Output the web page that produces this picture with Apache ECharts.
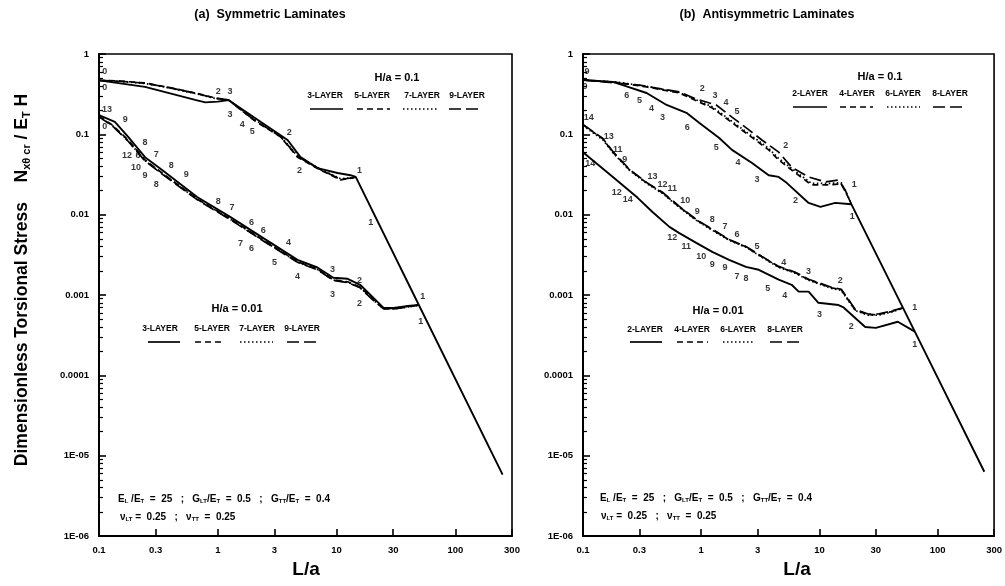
<!DOCTYPE html>
<html><head><meta charset="utf-8">
<script src="https://cdn.jsdelivr.net/npm/echarts@6/dist/echarts.min.js"></script>
<style>html,body{margin:0;padding:0;background:#fff}#c{width:1005px;height:586px}</style>
</head><body><div id="c"></div>
<script>
// ---------- tick data ----------
const xTicks = [0.1, 0.3, 1, 3, 10, 30, 100, 300];
const yTicks = [1e-6, 1e-5, 1e-4, 1e-3, 1e-2, 1e-1, 1];
const yTickLabels = ['1E-06', '1E-05', '0.0001', '0.001', '0.01', '0.1', '1'];
const yMinorMult = [2, 3, 4, 5, 6, 7, 8, 9];
const yDecades = [1e-6, 1e-5, 1e-4, 1e-3, 1e-2, 1e-1];

// ---------- (a) Symmetric laminates, H/a = 0.1 ----------
const sym01_3 = [[0.1,0.47],[0.244,0.39],[0.645,0.268],[0.785,0.25],[1.0,0.255],[1.23,0.268],[2.0,0.164],[3.87,0.085],[4.97,0.052],[6.9,0.038],[10.2,0.033],[13.1,0.031],[14.5,0.0295],[49.3,0.00075],[250,5.8e-6]];
const sym01_5 = [[0.1,0.47],[0.15,0.46],[0.244,0.436],[0.4,0.38],[0.645,0.327],[0.95,0.284],[1.23,0.268],[2.0,0.151],[3.37,0.093],[4.69,0.052],[7.3,0.036],[10.8,0.0271],[13.7,0.0287],[14.5,0.0295]];
const sym01_7 = [[0.1,0.47],[0.15,0.455],[0.244,0.43],[0.4,0.375],[0.645,0.322],[0.95,0.28],[1.23,0.268],[2.0,0.155],[3.37,0.095],[4.69,0.054],[7.3,0.037],[10.8,0.028],[13.7,0.0289],[14.5,0.0295]];
const sym01_9 = [[0.1,0.47],[0.15,0.458],[0.244,0.433],[0.4,0.378],[0.645,0.325],[0.95,0.282],[1.23,0.268],[2.0,0.153],[3.37,0.094],[4.69,0.053],[7.3,0.0365],[10.8,0.0275],[13.7,0.0288],[14.5,0.0295]];
// ---------- (a) Symmetric laminates, H/a = 0.01 ----------
const sym001_3 = [[0.1,0.174],[0.136,0.143],[0.176,0.093],[0.244,0.052],[0.34,0.036],[0.67,0.0166],[1.27,0.0094],[2.42,0.0051],[4.69,0.00274],[6.9,0.0022],[9.4,0.00164],[12.4,0.00159],[15.8,0.00134],[24.9,0.00069],[30.3,0.00069],[39.8,0.00073],[49.3,0.00075]];
const sym001_5 = [[0.1,0.168],[0.13,0.13],[0.176,0.085],[0.244,0.048],[0.34,0.033],[0.67,0.0157],[1.27,0.0089],[2.42,0.0048],[4.69,0.0026],[6.9,0.0021],[9.4,0.00155],[12.4,0.00146],[15.8,0.00126],[20,0.0009],[24.9,0.00068],[30.3,0.00068],[39.8,0.00072],[49.3,0.00075]];
const sym001_7 = [[0.1,0.166],[0.13,0.128],[0.176,0.083],[0.244,0.047],[0.34,0.0325],[0.67,0.0155],[1.27,0.0088],[2.42,0.00475],[4.69,0.00258],[6.9,0.00208],[9.4,0.00153],[12.4,0.00144],[15.8,0.00124],[20,0.00089],[24.9,0.00067],[30.3,0.00067],[39.8,0.00071],[49.3,0.00075]];
const sym001_9 = [[0.1,0.165],[0.13,0.127],[0.176,0.082],[0.244,0.0465],[0.34,0.032],[0.67,0.0154],[1.27,0.0087],[2.42,0.0047],[4.69,0.00256],[6.9,0.00206],[9.4,0.00152],[12.4,0.00143],[15.8,0.00123],[20,0.00088],[24.9,0.00067],[30.3,0.00067],[39.8,0.00071],[49.3,0.00075]];

// ---------- (b) Antisymmetric laminates, H/a = 0.1 ----------
const anti01_2 = [[0.1,0.475],[0.179,0.449],[0.217,0.41],[0.345,0.327],[0.51,0.232],[0.75,0.185],[0.96,0.139],[1.42,0.09],[1.82,0.064],[2.69,0.044],[3.72,0.031],[4.52,0.0295],[5.28,0.0249],[8.1,0.014],[10.2,0.0125],[13.6,0.014],[18.6,0.0135],[64.1,0.00035],[248,6.3e-6]];
const anti01_4 = [[0.1,0.475],[0.2,0.44],[0.345,0.389],[0.653,0.327],[1.24,0.213],[2.39,0.104],[3.72,0.064],[4.52,0.048],[6.28,0.033],[8.57,0.0235],[11.9,0.0235],[15.3,0.0242],[17.5,0.0165],[18.6,0.0135]];
const anti01_6 = [[0.1,0.475],[0.2,0.445],[0.345,0.395],[0.653,0.332],[1.24,0.22],[2.39,0.108],[3.72,0.067],[4.52,0.05],[6.28,0.0345],[8.57,0.0245],[11.9,0.0245],[15.3,0.025],[17.5,0.0168],[18.6,0.0135]];
const anti01_8 = [[0.1,0.475],[0.3,0.41],[0.653,0.337],[0.908,0.275],[1.34,0.232],[1.82,0.164],[2.53,0.1135],[3.26,0.085],[4.52,0.06],[5.82,0.039],[8.1,0.0295],[11.2,0.0256],[14.5,0.027],[16.5,0.0203],[18.6,0.0135]];
// ---------- (b) Antisymmetric laminates, H/a = 0.01 ----------
const anti001_2 = [[0.1,0.06],[0.179,0.0295],[0.29,0.0162],[0.387,0.0108],[0.538,0.00705],[0.653,0.0059],[0.908,0.00446],[1.24,0.00344],[1.72,0.00274],[2.39,0.00224],[3.07,0.00206],[4.52,0.00155],[5.82,0.00134],[6.67,0.0011],[8.1,0.0011],[9.8,0.0008],[14.5,0.00075],[16,0.0007],[24.4,0.0004],[30,0.00039],[46,0.000464],[64.1,0.00035]];
const anti001_4 = [[0.1,0.131],[0.147,0.088],[0.179,0.06],[0.248,0.036],[0.345,0.0249],[0.47,0.0187],[0.653,0.0125],[0.908,0.0086],[1.24,0.0065],[1.72,0.00486],[2.39,0.00398],[3.26,0.00299],[4.52,0.00224],[6.28,0.00189],[8.1,0.00155],[12.6,0.00123],[15.3,0.00116],[20.1,0.00065],[25.8,0.00057],[31.3,0.00057],[40.3,0.00062],[50.8,0.00069]];
const anti001_6 = [[0.1,0.128],[0.147,0.086],[0.179,0.059],[0.248,0.0355],[0.345,0.0245],[0.47,0.0184],[0.653,0.0123],[0.908,0.0085],[1.24,0.0064],[1.72,0.0048],[2.39,0.00392],[3.26,0.00295],[4.52,0.00221],[6.28,0.00186],[8.1,0.00153],[12.6,0.00121],[15.3,0.00114],[20.1,0.00064],[25.8,0.00056],[31.3,0.00056],[40.3,0.00061],[50.8,0.00069]];
const anti001_8 = [[0.1,0.133],[0.147,0.089],[0.179,0.061],[0.248,0.0365],[0.345,0.0252],[0.47,0.019],[0.653,0.0127],[0.908,0.0087],[1.24,0.0066],[1.72,0.0049],[2.39,0.00402],[3.26,0.00302],[4.52,0.00227],[6.28,0.00191],[8.1,0.00157],[12.6,0.00125],[15.3,0.00118],[20.1,0.00066],[25.8,0.00058],[31.3,0.00058],[40.3,0.00063],[50.8,0.00069]];

// ---------- mode-number annotations [L/a, value, text] ----------
const symLabels = [[0.112,0.597,'0'],[0.112,0.378,'0'],[1.01,0.337,'2'],[1.27,0.337,'3'],[1.27,0.174,'3'],[1.61,0.131,'4'],[1.95,0.107,'5'],[4.0,0.104,'2'],[4.88,0.035,'2'],[15.6,0.035,'1'],
 [0.117,0.201,'13'],[0.112,0.124,'0'],[0.166,0.151,'9'],[0.244,0.078,'8'],[0.172,0.054,'12'],[0.213,0.054,'6'],[0.303,0.0554,'7'],[0.205,0.039,'10'],[0.244,0.0304,'9'],[0.405,0.0404,'8'],[0.542,0.0313,'9'],[0.303,0.0235,'8'],
 [1.01,0.0144,'8'],[1.32,0.0122,'7'],[1.92,0.0079,'6'],[2.42,0.0063,'6'],[3.94,0.00446,'4'],[1.55,0.00433,'7'],[1.92,0.00376,'6'],[3.0,0.00251,'5'],[4.69,0.00168,'4'],[9.25,0.00206,'3'],[15.6,0.0015,'2'],[9.25,0.001,'3'],[15.6,0.00078,'2'],[53.2,0.00095,'1'],[51.2,0.000464,'1'],[19.4,0.0081,'1']];
const antiLabels = [[0.108,0.597,'9'],[0.104,0.389,'0'],[0.234,0.30,'6'],[0.301,0.26,'5'],[0.38,0.207,'4'],[0.47,0.164,'3'],[0.762,0.12,'6'],[1.34,0.0677,'5'],[2.05,0.044,'4'],[2.96,0.0271,'3'],[6.28,0.0149,'2'],[18.9,0.0094,'1'],
 [1.02,0.367,'2'],[1.31,0.30,'3'],[1.62,0.246,'4'],[2.01,0.19,'5'],[5.18,0.0717,'2'],[19.7,0.0235,'1'],
 [0.112,0.164,'14'],[0.165,0.0928,'13'],[0.197,0.064,'11'],[0.225,0.048,'9'],[0.115,0.0428,'14'],[0.387,0.0295,'13'],[0.47,0.0235,'12'],[0.57,0.021,'11'],[0.734,0.0149,'10'],[0.925,0.0108,'9'],[1.24,0.0086,'8'],[1.59,0.00705,'7'],[0.193,0.0187,'12'],[0.239,0.0153,'14'],
 [2.01,0.0056,'6'],[2.96,0.00398,'5'],[4.98,0.00251,'4'],[8.1,0.00194,'3'],[15.0,0.0015,'2'],[64.1,0.00069,'1'],[64.1,0.00024,'1'],[18.6,0.0004,'2'],[10,0.00057,'3'],
 [0.57,0.00514,'12'],[0.748,0.00398,'11'],[1.0,0.00299,'10'],[1.24,0.00238,'9'],[1.59,0.00218,'9'],[2.01,0.00168,'7'],[2.39,0.00159,'8'],[3.66,0.00119,'5'],[5.08,0.00098,'4']];

// ---------- legend texts ----------
const symLegend = ['3-LAYER', '5-LAYER', '7-LAYER', '9-LAYER'];
const antiLegend = ['2-LAYER', '4-LAYER', '6-LAYER', '8-LAYER'];

// ---------- build chart ----------
const F = '"Liberation Sans", Arial, Helvetica, sans-serif';
const BLACK = '#000';
const DASH = [6, 4], DOT = [1.5, 2.5], LDASH = [12, 5];
const yMinor = [];
yDecades.forEach(d => yMinorMult.forEach(m => yMinor.push(m * d)));

function fmtX(v) { return String(+Number(v).toPrecision(3)); }
function fmtY(v) {
  const l = Math.log10(v);
  for (let i = 0; i < yTicks.length; i++) if (Math.abs(Math.log10(yTicks[i]) - l) < 1e-6) return yTickLabels[i];
  return '';
}
const lbl = { color: BLACK, fontSize: 9.5, fontWeight: 'bold', fontFamily: F };

function xAx(g) {
  return { type: 'log', logBase: 10, gridIndex: g, min: 0.1, max: 300,
    axisLine: { show: true, lineStyle: { color: BLACK, width: 2 } },
    axisTick: { show: true, inside: true, length: 7, customValues: xTicks, lineStyle: { color: BLACK, width: 1.6 } },
    axisLabel: Object.assign({ customValues: xTicks, formatter: fmtX, margin: 9 }, lbl),
    splitLine: { show: false }, minorTick: { show: false } };
}
function yAxMajor(g) {
  return { type: 'log', logBase: 10, gridIndex: g, min: 1e-6, max: 1, position: 'left',
    axisLine: { show: true, lineStyle: { color: BLACK, width: 2 } },
    axisTick: { show: true, inside: true, length: 7, customValues: yTicks, lineStyle: { color: BLACK, width: 1.6 } },
    axisLabel: Object.assign({ customValues: yTicks, formatter: fmtY, margin: 10 }, lbl),
    splitLine: { show: false } };
}
function yAxMinor(g) {
  return { type: 'log', logBase: 10, gridIndex: g, min: 1e-6, max: 1, position: 'left', offset: 0,
    axisLine: { show: false },
    axisTick: { show: true, inside: true, length: 4, customValues: yMinor, lineStyle: { color: BLACK, width: 1.2 } },
    axisLabel: { show: false }, splitLine: { show: false } };
}
function line(data, g, type, width) {
  return { type: 'line', xAxisIndex: g, yAxisIndex: 2 * g, data: data, symbol: 'none', showSymbol: false,
    lineStyle: { color: BLACK, width: width || 1.7, type: type }, silent: true, animation: false, z: 3 };
}
function annot(arr, g) {
  return { type: 'scatter', xAxisIndex: g, yAxisIndex: 2 * g, symbolSize: 1,
    itemStyle: { color: 'rgba(0,0,0,0)' },
    data: arr.map(d => ({ value: [d[0], d[1]], name: d[2] })),
    label: { show: true, position: 'inside', formatter: p => p.name, color: BLACK, fontSize: 9, fontWeight: 'bold', fontFamily: F, textBorderWidth: 0 },
    silent: true, animation: false, z: 5 };
}
function T(x, y, text, size, align, extra) {
  return Object.assign({ type: 'text', x: x, y: y, z: 10,
    style: { text: text, fill: BLACK, font: 'bold ' + size + 'px ' + F, align: align || 'center', verticalAlign: 'middle' } }, extra || {});
}
function L(x1, x2, y, dash) {
  return { type: 'line', z: 10, shape: { x1: x1, y1: y, x2: x2, y2: y },
    style: { stroke: BLACK, lineWidth: 1.7, lineDash: dash || null } };
}
function RT(x, y, text, size, align, extra) {
  const rich = {
    s: { fontSize: Math.round(size * 0.6), fontWeight: 'bold', fontFamily: F, fill: BLACK, padding: [Math.round(size * 0.5), 0, 0, 0] },
    n: { fontSize: size, fontWeight: 'bold', fontFamily: F, fill: BLACK }
  };
  return Object.assign({ type: 'text', x: x, y: y, z: 10,
    style: { text: text, rich: rich, fill: BLACK, font: 'bold ' + size + 'px ' + F, align: align || 'left', verticalAlign: 'middle' } }, extra || {});
}

const graphics = [
  T(270, 15, '(a)  Symmetric Laminates', 12.5),
  T(767, 15, '(b)  Antisymmetric Laminates', 12.5),
  T(306, 570, 'L/a', 19),
  T(797, 570, 'L/a', 19),
  RT(22, 280, '{n|Dimensionless Torsional Stress    N}{s|xθ cr}{n| / E}{s|T}{n| H}', 17.5, 'center', { rotation: Math.PI / 2 }),
  // left legends
  T(397, 78, 'H/a = 0.1', 11),
  T(325, 96, symLegend[0], 8.5), T(372, 96, symLegend[1], 8.5), T(422, 96, symLegend[2], 8.5), T(467, 96, symLegend[3], 8.5),
  L(310, 343, 109), L(357, 390, 109, DASH), L(403, 437, 109, DOT), L(449, 482, 109, LDASH),
  T(237, 309, 'H/a = 0.01', 11),
  T(160, 329, symLegend[0], 8.5), T(212, 329, symLegend[1], 8.5), T(257, 329, symLegend[2], 8.5), T(302, 329, symLegend[3], 8.5),
  L(148, 180, 342), L(195, 225, 342, DASH), L(240, 273, 342, DOT), L(287, 320, 342, LDASH),
  // right legends
  T(880, 77, 'H/a = 0.1', 11),
  T(810, 94, antiLegend[0], 8.5), T(857, 94, antiLegend[1], 8.5), T(903, 94, antiLegend[2], 8.5), T(950, 94, antiLegend[3], 8.5),
  L(793, 827, 107), L(840, 873, 107, DASH), L(887, 920, 107, DOT), L(933, 967, 107, LDASH),
  T(718, 311, 'H/a = 0.01', 11),
  T(645, 330, antiLegend[0], 8.5), T(692, 330, antiLegend[1], 8.5), T(738, 330, antiLegend[2], 8.5), T(785, 330, antiLegend[3], 8.5),
  L(630, 662, 342), L(677, 708, 342, DASH), L(723, 755, 342, DOT), L(770, 802, 342, LDASH),
  // material parameters
  RT(118, 499, '{n|E}{s|L}{n| /E}{s|T}{n|  =  25   ;   G}{s|LT}{n|/E}{s|T}{n|  =  0.5   ;   G}{s|TT}{n|/E}{s|T}{n|  =  0.4}', 10),
  RT(120, 517, '{n|ν}{s|LT}{n| =  0.25   ;   ν}{s|TT}{n|  =  0.25}', 10),
  RT(600, 498, '{n|E}{s|L}{n| /E}{s|T}{n|  =  25   ;   G}{s|LT}{n|/E}{s|T}{n|  =  0.5   ;   G}{s|TT}{n|/E}{s|T}{n|  =  0.4}', 10),
  RT(601, 516, '{n|ν}{s|LT}{n| =  0.25   ;   ν}{s|TT}{n|  =  0.25}', 10)
];

const option = {
  backgroundColor: '#fff',
  animation: false,
  grid: [
    { left: 99, top: 54, width: 413, height: 482, show: true, borderColor: BLACK, borderWidth: 1.6, backgroundColor: 'transparent' },
    { left: 583, top: 54, width: 414, height: 482, show: true, borderColor: BLACK, borderWidth: 1.6, backgroundColor: 'transparent' }
  ],
  xAxis: [xAx(0), xAx(1)],
  yAxis: [yAxMajor(0), yAxMinor(0), yAxMajor(1), yAxMinor(1)],
  series: [
    line(sym01_3, 0, 'solid', 1.9), line(sym01_5, 0, DASH), line(sym01_7, 0, DOT), line(sym01_9, 0, LDASH),
    line(sym001_3, 0, 'solid', 1.9), line(sym001_5, 0, DASH), line(sym001_7, 0, DOT), line(sym001_9, 0, LDASH),
    line(anti01_2, 1, 'solid', 1.9), line(anti01_4, 1, DASH), line(anti01_6, 1, DOT), line(anti01_8, 1, LDASH),
    line(anti001_2, 1, 'solid', 1.9), line(anti001_4, 1, DASH), line(anti001_6, 1, DOT), line(anti001_8, 1, LDASH),
    annot(symLabels, 0), annot(antiLabels, 1)
  ],
  graphic: graphics
};
const chart = echarts.init(document.getElementById('c'));
chart.setOption(option);
</script>
</body></html>
